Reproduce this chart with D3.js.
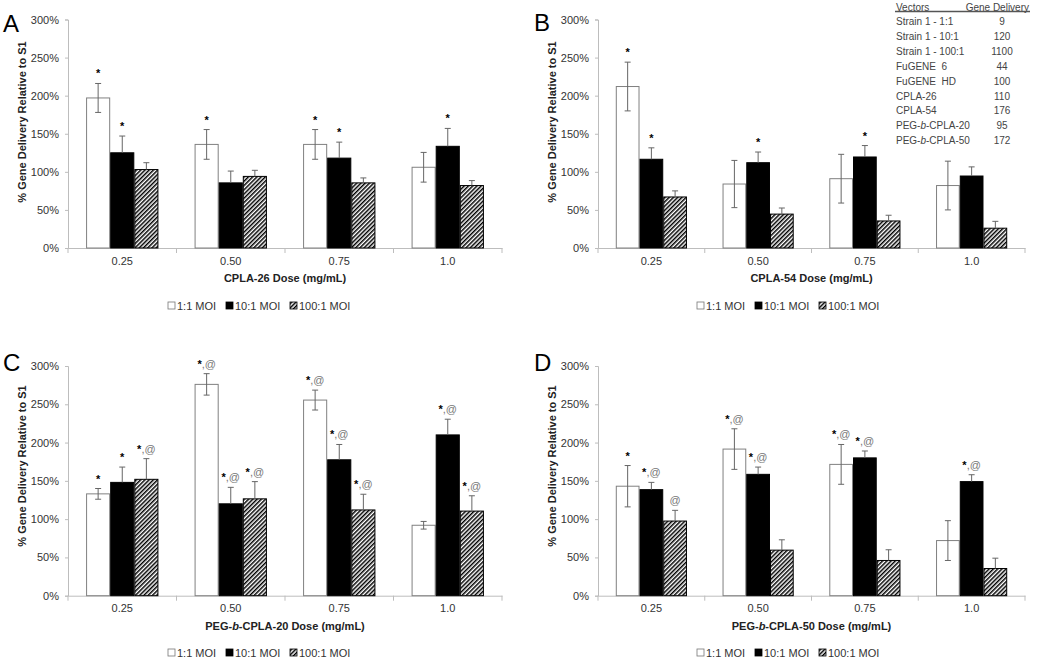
<!DOCTYPE html>
<html><head><meta charset="utf-8">
<script src="https://cdn.jsdelivr.net/npm/d3@7"></script>
<style>
body{margin:0;background:#fff;}
text{font-family:"Liberation Sans",Arial,sans-serif;}
</style></head>
<body>
<svg id="chart" width="1050" height="661"></svg>
<script>
// ---------- DATA ----------
const categories = ["0.25", "0.50", "0.75", "1.0"];
const seriesNames = ["1:1 MOI", "10:1 MOI", "100:1 MOI"];
const yTicks = [0, 50, 100, 150, 200, 250, 300];

const meanA_1 = [197, 136, 136, 106];   const errA_1 = [19, 19.5, 19.5, 19.5];
const meanA_10 = [125, 85.5, 118, 133.5]; const errA_10 = [22, 15.5, 21, 23.5];
const meanA_100 = [103, 94, 85.5, 82];  const errA_100 = [9, 8, 6.5, 6.5];
const sigA = [["*", "*", ""], ["*", "", ""], ["*", "*", ""], ["", "*", ""]];

const meanB_1 = [212, 84, 91, 82];      const errB_1 = [32, 31, 32, 32];
const meanB_10 = [116.5, 112, 119.5, 94.5]; const errB_10 = [15, 14, 15, 12];
const meanB_100 = [67, 44.5, 35.5, 26]; const errB_100 = [8, 8, 7.5, 9];
const sigB = [["*", "*", ""], ["", "*", ""], ["", "*", ""], ["", "", ""]];

const meanC_1 = [133, 276, 255.5, 92];  const errC_1 = [7, 14, 13, 5];
const meanC_10 = [148, 120, 177.5, 210]; const errC_10 = [20, 21.5, 20, 20.5];
const meanC_100 = [152, 126.5, 112, 110.5]; const errC_100 = [27, 22.5, 20.5, 20];
const sigC = [["*", "*", "*,@"], ["*,@", "*,@", "*,@"], ["*,@", "*,@", "*,@"], ["", "*,@", "*,@"]];

const meanD_1 = [143, 191.5, 171.5, 72]; const errD_1 = [27, 26.5, 26, 26];
const meanD_10 = [138.5, 158.5, 180, 149]; const errD_10 = [9.5, 9.5, 9, 9];
const meanD_100 = [97.5, 59.5, 46, 35.5]; const errD_100 = [14, 13.5, 14, 13.5];
const sigD = [["*", "*,@", "@"], ["*,@", "*,@", ""], ["*,@", "*,@", ""], ["", "*,@", ""]];

const tableVectors = ["Strain 1 - 1:1", "Strain 1 - 10:1", "Strain 1 - 100:1", "FuGENE  6", "FuGENE  HD", "CPLA-26", "CPLA-54", "PEG-b-CPLA-20", "PEG-b-CPLA-50"];
const tableDelivery = ["9", "120", "1100", "44", "100", "110", "176", "95", "172"];

// ---------- DRAW ----------
const svg = d3.select("#chart");
const defs = svg.append("defs");
const pat = defs.append("pattern").attr("id", "hatch").attr("patternUnits", "userSpaceOnUse")
  .attr("width", 3).attr("height", 3).attr("patternTransform", "rotate(45)");
pat.append("rect").attr("width", 3).attr("height", 3).attr("fill", "#fff");
pat.append("rect").attr("width", 1.5).attr("height", 3).attr("fill", "#000");

const axisColor = "#bdbdbd";
const textColor = "#333";
const errColor = "#666";

function drawPanel(cfg) {
  const g = svg.append("g");
  const x0 = d3.scaleBand().domain(categories).range([cfg.left, cfg.right]).padding(0);
  const x1 = d3.scaleBand().domain(seriesNames).range([0, x0.bandwidth()]).paddingInner(0).paddingOuter(0.75);
  const y = d3.scaleLinear().domain([0, 300]).range([cfg.bottom, cfg.top]);

  // y axis
  const ya = g.append("g").attr("transform", `translate(${cfg.left},0)`)
    .call(d3.axisLeft(y).tickValues(yTicks).tickSize(3).tickPadding(6).tickFormat(d => d + "%"));
  ya.select(".domain").attr("stroke", axisColor);
  ya.selectAll(".tick line").attr("stroke", axisColor);
  ya.selectAll("text").attr("font-size", 11).attr("fill", textColor);

  // x axis
  const xa = g.append("g").attr("transform", `translate(0,${cfg.bottom})`)
    .call(d3.axisBottom(x0).tickSize(0).tickPadding(9));
  xa.select(".domain").attr("stroke", axisColor);
  xa.selectAll("text").attr("font-size", 11).attr("fill", textColor);
  const bounds = categories.map(c => x0(c)).concat([cfg.right]);
  g.selectAll(".sep").data(bounds).join("line")
    .attr("x1", d => d).attr("x2", d => d)
    .attr("y1", cfg.bottom).attr("y2", cfg.bottom + 5)
    .attr("stroke", axisColor);

  const fills = ["#fff", "#000", "url(#hatch)"];
  const strokes = ["#808080", "#000", "#000"];
  cfg.means.forEach((vals, si) => {
    const s = seriesNames[si];
    const gg = g.append("g");
    const data = categories.map((c, ci) => ({ c, ci, v: vals[ci], e: cfg.errs[si][ci], sig: cfg.sig[ci][si] }));
    gg.selectAll("rect").data(data).join("rect")
      .attr("x", d => x0(d.c) + x1(s) + 0.5)
      .attr("y", d => y(d.v))
      .attr("width", x1.bandwidth() - 1)
      .attr("height", d => y(0) - y(d.v))
      .attr("fill", fills[si]).attr("stroke", strokes[si]).attr("stroke-width", 1);
    // error bars (lower half only visible on white bars)
    const cx = d => x0(d.c) + x1(s) + x1.bandwidth() / 2;
    const lowV = d => si === 0 ? d.v - d.e : d.v;
    gg.selectAll(".ev").data(data).join("line")
      .attr("x1", cx).attr("x2", cx)
      .attr("y1", d => y(d.v + d.e)).attr("y2", d => y(lowV(d)))
      .attr("stroke", errColor).attr("stroke-width", 1);
    gg.selectAll(".et").data(data).join("line")
      .attr("x1", d => cx(d) - 3).attr("x2", d => cx(d) + 3)
      .attr("y1", d => y(d.v + d.e)).attr("y2", d => y(d.v + d.e))
      .attr("stroke", errColor);
    if (si === 0) {
      gg.selectAll(".eb").data(data).join("line")
        .attr("x1", d => cx(d) - 3).attr("x2", d => cx(d) + 3)
        .attr("y1", d => y(d.v - d.e)).attr("y2", d => y(d.v - d.e))
        .attr("stroke", errColor);
    }
    // significance
    const st = gg.selectAll(".sig").data(data.filter(d => d.sig)).join("text")
      .attr("x", cx).attr("y", d => y(d.v + d.e) - 6)
      .attr("text-anchor", "middle").attr("font-size", 11);
    st.each(function (d) {
      const t = d3.select(this);
      const parts = d.sig.split(/(\*)/).filter(p => p);
      parts.forEach(p => {
        t.append("tspan").text(p)
          .attr("fill", p === "*" ? "#000" : "#777")
          .attr("font-weight", p === "*" ? "bold" : "normal");
      });
    });
  });

  // y label
  g.append("text")
    .attr("transform", `translate(${cfg.ylabX},${cfg.ylabY}) rotate(-90)`)
    .attr("text-anchor", "middle").attr("dy", "0.35em")
    .attr("font-size", 11).attr("font-weight", "bold").attr("fill", "#222")
    .text("% Gene Delivery Relative to S1");

  // x title
  const xt = g.append("text").attr("x", (cfg.left + cfg.right) / 2).attr("y", cfg.bottom + 34)
    .attr("text-anchor", "middle").attr("font-size", 11).attr("font-weight", "bold").attr("fill", "#222");
  cfg.xtitle.forEach(p => xt.append("tspan").text(p.t).attr("font-style", p.i ? "italic" : "normal"));

  // panel letter
  g.append("text").attr("x", cfg.letterX).attr("y", cfg.letterY).attr("font-size", 24).attr("fill", "#000").text(cfg.letter);

  // legend
  const lg = g.append("g").attr("transform", `translate(${cfg.legX},${cfg.legY})`);
  const legOff = [0, 58, 122];
  seriesNames.forEach((s, i) => {
    lg.append("rect").attr("x", legOff[i]).attr("y", -4).attr("width", 7).attr("height", 7)
      .attr("fill", fills[i]).attr("stroke", i === 0 ? "#777" : "#000").attr("stroke-width", 0.8);
    lg.append("text").attr("x", legOff[i] + 9).attr("y", 0).attr("dy", "0.35em")
      .attr("font-size", 11).attr("fill", textColor).text(s);
  });
}

drawPanel({ left: 68, right: 502, top: 19.5, bottom: 248, means: [meanA_1, meanA_10, meanA_100], errs: [errA_1, errA_10, errA_100], sig: sigA,
  ylabX: 22, ylabY: 122, xtitle: [{ t: "CPLA-26 Dose (mg/mL)" }], letter: "A", letterX: 3, letterY: 32, legX: 168, legY: 306 });
drawPanel({ left: 598, right: 1025, top: 19.5, bottom: 248, means: [meanB_1, meanB_10, meanB_100], errs: [errB_1, errB_10, errB_100], sig: sigB,
  ylabX: 552, ylabY: 122, xtitle: [{ t: "CPLA-54 Dose (mg/mL)" }], letter: "B", letterX: 534, letterY: 31, legX: 697, legY: 306 });
drawPanel({ left: 68, right: 502, top: 366, bottom: 595.7, means: [meanC_1, meanC_10, meanC_100], errs: [errC_1, errC_10, errC_100], sig: sigC,
  ylabX: 22, ylabY: 466, xtitle: [{ t: "PEG-" }, { t: "b", i: true }, { t: "-CPLA-20 Dose (mg/mL)" }], letter: "C", letterX: 3, letterY: 371, legX: 168, legY: 653 });
drawPanel({ left: 598, right: 1025, top: 366, bottom: 595.7, means: [meanD_1, meanD_10, meanD_100], errs: [errD_1, errD_10, errD_100], sig: sigD,
  ylabX: 552, ylabY: 466, xtitle: [{ t: "PEG-" }, { t: "b", i: true }, { t: "-CPLA-50 Dose (mg/mL)" }], letter: "D", letterX: 534, letterY: 371, legX: 697, legY: 653 });

// table in panel B
const tb = svg.append("g").attr("font-size", 10).attr("fill", "#444");
tb.append("text").attr("x", 896).attr("y", 7).attr("dy", "0.35em").text("Vectors");
tb.append("text").attr("x", 1029).attr("y", 7).attr("dy", "0.35em").attr("text-anchor", "end").text("Gene Delivery");
tb.append("line").attr("x1", 895).attr("x2", 1030).attr("y1", 11.5).attr("y2", 11.5).attr("stroke", "#555").attr("stroke-width", 1.3);
const rowY = d3.scalePoint().domain(d3.range(tableVectors.length)).range([21.7, 140.7]);
tableVectors.forEach((v, i) => {
  const t = tb.append("text").attr("x", 896).attr("y", rowY(i)).attr("dy", "0.35em").attr("xml:space", "preserve").style("white-space", "pre");
  const m = v.match(/^(PEG-)(b)(-.*)$/);
  if (m) {
    t.append("tspan").text(m[1]);
    t.append("tspan").text(m[2]).attr("font-style", "italic");
    t.append("tspan").text(m[3]);
  } else t.text(v);
  tb.append("text").attr("x", 1002).attr("y", rowY(i)).attr("dy", "0.35em").attr("text-anchor", "middle").text(tableDelivery[i]);
});
</script>
</body></html>
